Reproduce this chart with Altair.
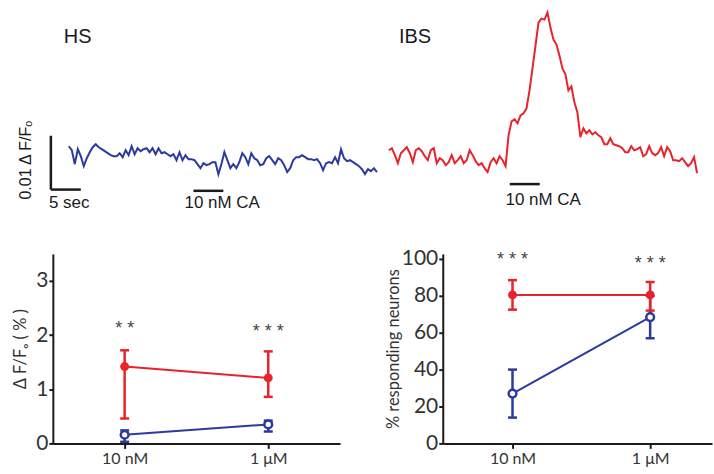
import altair as alt
import pandas as pd
import numpy as np

# ---------------- data ----------------
SAMPLE_DT = 0.5  # s between trace samples

# calcium traces, in units of 0.001 dF/F0
hs_trace = [2.59, 1.85, -0.74, 2.04, 0.74, -1.11, 0.37, 1.48, 2.41, 2.96,
            2.41, 2.04, 1.67, 1.30, 0.93, 0.74, 0.74, 1.30, 0.56, 1.85,
            0.93, 2.59, 1.11, 2.22, 1.67, 2.04, 2.22, 1.48, 2.22, 1.11,
            2.22, 1.30, 1.48, 1.11, 0.74, 1.11, 0.00, 1.48, 0.00, 0.93,
            0.19, 0.19, 0.00, -0.74, -1.48, -0.56, -0.93, -0.74, -0.37, -0.37,
            -2.59, -0.74, 1.48, 0.00, -1.48, -0.74, -1.48, -0.37, 1.30, 0.56,
            -0.74, 1.30, 0.37, 0.00, -0.93, -0.74, 0.37, 0.74, 0.00, -0.74,
            0.37, 0.00, -0.93, -2.22, -1.48, 0.00, 0.56, 0.56, 0.93, 0.56,
            0.19, 0.19, 0.00, 0.19, -0.56, -1.85, -0.56, -0.37, -0.56, 0.56,
            -0.56, 2.04, 0.37, -0.19, 0.00, -0.37, -0.74, -1.11, -1.67, -2.59,
            -1.67, -2.04, -1.48, -2.22]

ibs_trace = [1.85, 2.22, 0.93, -0.56, 1.30, 1.85, 2.41, 1.30, -0.37, 1.85,
             2.22, 1.67, 0.74, 0.00, 1.85, 2.22, -0.56, 0.37, 0.00, -0.93,
             -0.37, 0.93, -0.56, 0.00, 0.74, -0.56, 0.00, 1.85, 0.93, -0.19,
             -0.93, -0.56, -1.48, -2.22, -0.37, 0.37, -0.56, 0.74, 0.00, -1.11,
             4.63, 7.22, 7.59, 6.85, 8.33, 8.70, 9.63, 12.96, 17.04, 21.30,
             25.56, 26.30, 26.11, 27.41, 24.63, 22.41, 21.48, 19.44, 17.04, 15.93,
             12.96, 13.70, 10.74, 8.89, 4.26, 5.93, 5.00, 5.56, 4.81, 5.19,
             4.63, 4.26, 2.96, 2.96, 4.07, 2.96, 2.78, 2.59, 2.22, 1.48,
             1.48, 2.59, 1.85, 2.04, 2.41, 0.74, 1.11, 2.59, 1.30, 0.93,
             1.30, 2.41, 0.74, 2.41, 1.67, 0.00, 0.00, -0.19, 0.37, -0.37,
             -1.11, -0.56, 0.56, -2.41]

doses = ["10 nM", "1 μM"]

dff_hs_mean = [0.16, 0.35]
dff_hs_lo = [0.03, 0.22]
dff_hs_hi = [0.24, 0.42]
dff_ibs_mean = [1.42, 1.21]
dff_ibs_lo = [0.46, 0.86]
dff_ibs_hi = [1.72, 1.70]
dff_stars = ["* *", "* * *"]
dff_star_y = [2.2, 2.15]

resp_hs_mean = [27.0, 68.5]
resp_hs_lo = [14.0, 57.0]
resp_hs_hi = [40.0, 80.0]
resp_ibs_mean = [80.5, 80.5]
resp_ibs_lo = [72.5, 72.0]
resp_ibs_hi = [88.5, 87.5]
resp_stars = ["* * *", "* * *"]
resp_star_y = [102.3, 100.2]

BLUE = "#2b3a9e"
RED = "#e8232b"
INK = "#1a1a1a"

# ---------------- top row: traces ----------------
YT = alt.Scale(domain=[-10.19, 29.63], nice=False, zero=False)
XL = alt.Scale(domain=[-2.67, 52.17], nice=False, zero=False)
XR = alt.Scale(domain=[-1.33, 54.33], nice=False, zero=False)

hs_df = pd.DataFrame({"t": np.arange(len(hs_trace)) * SAMPLE_DT, "v": hs_trace})
ibs_df = pd.DataFrame({"t": np.arange(len(ibs_trace)) * SAMPLE_DT, "v": ibs_trace})


def trace(df, xs, color):
    return alt.Chart(df).mark_line(color=color, strokeWidth=2).encode(
        x=alt.X("t:Q", scale=xs, axis=None),
        y=alt.Y("v:Q", scale=YT, axis=None),
    )


def hbar(xs, t0, t1, v):
    return alt.Chart(pd.DataFrame({"t": [t0], "t2": [t1], "v": [v]})).mark_rule(
        color=INK, strokeWidth=2.5).encode(
        x=alt.X("t:Q", scale=xs, axis=None), x2="t2:Q",
        y=alt.Y("v:Q", scale=YT, axis=None))


def vbar(xs, t, v0, v1):
    return alt.Chart(pd.DataFrame({"t": [t], "v": [v0], "v2": [v1]})).mark_rule(
        color=INK, strokeWidth=2.5).encode(
        x=alt.X("t:Q", scale=xs, axis=None),
        y=alt.Y("v:Q", scale=YT, axis=None), y2="v2:Q")


def label(xs, t, v, s, size, **kw):
    return alt.Chart(pd.DataFrame({"t": [t], "v": [v], "s": [s]})).mark_text(
        font="Liberation Sans", fontSize=size, color=INK, baseline="middle", **kw).encode(
        x=alt.X("t:Q", scale=xs, axis=None),
        y=alt.Y("v:Q", scale=YT, axis=None), text="s:N")


top_left = alt.layer(
    trace(hs_df, XL, BLUE),
    vbar(XL, -3.0, -5.46, 4.54),
    hbar(XL, -3.0, 2.0, -5.46),
    label(XL, -3.33, -7.96, "5 sec", 17, align="left"),
    label(XL, -7.17, 0.0, "0.01 Δ F/Fₒ", 16, align="center", angle=270),
    hbar(XL, 20.83, 25.83, -5.69),
    label(XL, 19.33, -7.96, "10 nM CA", 17, align="left"),
    label(XL, -0.83, 22.96, "HS", 20, align="left"),
).properties(width=329, height=215)

top_right = alt.layer(
    trace(ibs_df, XR, RED),
    hbar(XR, 20.2, 25.2, -4.44),
    label(XR, 19.5, -7.41, "10 nM CA", 17, align="left"),
    label(XR, 1.67, 22.96, "IBS", 20, align="left"),
).properties(width=334, height=215)

top = alt.hconcat(top_left, top_right, spacing=0)

# ---------------- bottom row: summary plots ----------------

def summary_df(hs_m, hs_lo, hs_hi, ibs_m, ibs_lo, ibs_hi):
    rows = []
    for g, m, lo, hi in (("HS", hs_m, hs_lo, hs_hi), ("IBS", ibs_m, ibs_lo, ibs_hi)):
        for d, a, b, c in zip(doses, m, lo, hi):
            rows.append({"dose": d, "group": g, "mean": a, "lo": b, "hi": c})
    return pd.DataFrame(rows)


def panel(df, stars, star_y, ydomain, yvalues, ytitle, width, title_pad, xpad, xalign):
    xenc = alt.X("dose:N", sort=doses,
                 scale=alt.Scale(type="point", padding=xpad, align=xalign),
                 axis=alt.Axis(title=None, labelAngle=0, labelFont="Lato", labelFontSize=16,
                               labelColor="#333333", labelPadding=2, tickSize=5, tickWidth=2,
                               tickColor=INK, domainColor=INK, domainWidth=2, grid=False))
    ys = alt.Scale(domain=ydomain, nice=False, zero=False)
    yaxis = alt.Axis(values=yvalues, format="d", labelOverlap=False, title=ytitle, grid=False,
                     domainColor=INK, domainWidth=2,
                     tickColor=INK, tickWidth=2, tickSize=4, labelFont="Lato", labelFontSize=21,
                     labelColor="#333333", labelPadding=1, titleFont="Lato",
                     titleFontSize=16.5,
                     titleFontWeight="normal", titleColor="#333333", titlePadding=title_pad)

    def Y(field):
        return alt.Y(field, scale=ys, axis=yaxis)

    color = alt.Color("group:N", scale=alt.Scale(domain=["IBS", "HS"], range=[RED, BLUE]),
                      legend=None)
    base = alt.Chart(df)
    lines = base.mark_line(strokeWidth=2).encode(
        x=xenc, y=Y("mean:Q"), color=color, detail="group:N")
    bars = base.mark_rule(strokeWidth=2.5).encode(
        x=xenc, y=Y("lo:Q"), y2="hi:Q", color=color)
    cap_lo = base.mark_tick(size=9, thickness=2.5, opacity=1).encode(
        x=xenc, y=Y("lo:Q"), color=color)
    cap_hi = base.mark_tick(size=9, thickness=2.5, opacity=1).encode(
        x=xenc, y=Y("hi:Q"), color=color)
    pts_ibs = base.transform_filter(alt.datum.group == "IBS").mark_point(
        filled=True, size=80, opacity=1).encode(
        x=xenc, y=Y("mean:Q"), color=color)
    pts_hs = base.transform_filter(alt.datum.group == "HS").mark_point(
        filled=False, fill="white", size=60, strokeWidth=2.5, opacity=1).encode(
        x=xenc, y=Y("mean:Q"), color=color)
    star_df = pd.DataFrame({"dose": doses, "y": star_y, "s": stars})
    star = alt.Chart(star_df).mark_text(font="Liberation Sans", fontSize=18, color="#444444",
                                        baseline="middle", dy=5).encode(
        x=xenc, y=Y("y:Q"), text="s:N")
    return alt.layer(lines, bars, cap_lo, cap_hi, pts_ibs, pts_hs, star).properties(
        width=width, height=190)


dff_df = summary_df(dff_hs_mean, dff_hs_lo, dff_hs_hi, dff_ibs_mean, dff_ibs_lo, dff_ibs_hi)
resp_df = summary_df(resp_hs_mean, resp_hs_lo, resp_hs_hi, resp_ibs_mean, resp_ibs_lo, resp_ibs_hi)

bottom_left = panel(dff_df, dff_stars, dff_star_y, [0, 3.5], [0, 1, 2, 3],
                    "Δ F/Fₒ ( % )", 288, 7, 0.5, 0.5)
bottom_right = panel(resp_df, resp_stars, resp_star_y, [0, 102.7], [0, 20, 40, 60, 80, 100],
                     "% responding neurons", 270, 0, 0.478, 0.53)

bottom = alt.hconcat(bottom_left, bottom_right, spacing=45)

chart = alt.vconcat(top, bottom, spacing=32).properties(
    padding={"left": 12, "top": 0, "right": 0, "bottom": 0},
    background="white",
).configure_view(stroke=None)

chart.save("out.html", embed_options={"renderer": "svg", "actions": False})
